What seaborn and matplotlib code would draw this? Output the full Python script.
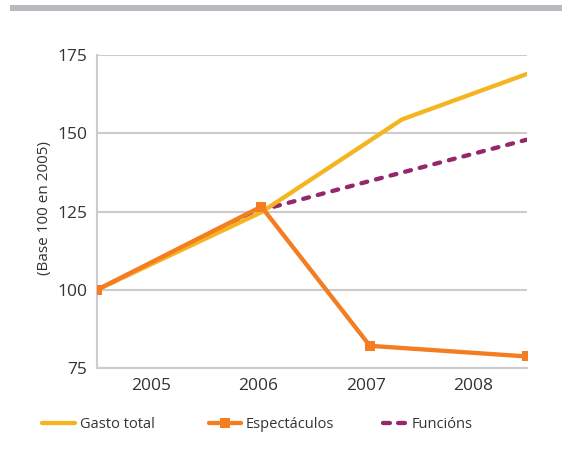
import matplotlib
matplotlib.use("Agg")
import matplotlib.pyplot as plt
import seaborn as sns
import pandas as pd
from matplotlib.patches import Rectangle
from matplotlib.lines import Line2D

# ---- data ----
year_labels = ["2005", "2006", "2007", "2008"]
year_ticks = [2005, 2006, 2007, 2008]

gasto_x = [2004.5, 2006.03, 2007.34, 2008.5]
gasto_y = [100, 124.8, 154.5, 169]

espect_x = [2004.5, 2006.03, 2007.04, 2008.5]
espect_y = [100, 126.6, 82.1, 78.7]

func_x = [2004.5, 2006.03, 2007.04, 2008.5]
func_y = [100, 125.5, 134.8, 148]

series_names = ["Gasto total", "Espectáculos", "Funcións"]
y_ticks = [75, 100, 125, 150, 175]

# ---- style ----
sns.set_theme(style="white")
plt.rcParams['font.family'] = ['Open Sans', 'DejaVu Sans']
TXT = "#333333"
GRID = "#cccccc"
C_GASTO = "#F4B520"
C_ESP = "#F47D22"
C_FUN = "#93296B"
DASH = (0, (1.4, 2.1))

fig = plt.figure(figsize=(5.67, 4.53), dpi=100)
ax = fig.add_axes([0.171, 0.1876, 0.758, 0.6904])

df_f = pd.DataFrame({"x": func_x, "y": func_y})
df_g = pd.DataFrame({"x": gasto_x, "y": gasto_y})
df_e = pd.DataFrame({"x": espect_x, "y": espect_y})

sns.lineplot(data=df_f, x="x", y="y", ax=ax, color=C_FUN, linewidth=3.1,
             linestyle=DASH, dash_capstyle="round", zorder=3)
sns.lineplot(data=df_g, x="x", y="y", ax=ax, color=C_GASTO, linewidth=3.1, zorder=4)
sns.lineplot(data=df_e, x="x", y="y", ax=ax, color=C_ESP, linewidth=3.1,
             marker="s", markersize=7, markeredgewidth=0, zorder=5)

ax.set_xlim(2004.5, 2008.5)
ax.set_ylim(75, 175)
ax.set_yticks(y_ticks)
ax.set_yticklabels([str(v) for v in y_ticks])
ax.set_xticks(year_ticks)
ax.set_xticklabels(year_labels)
ax.set_xticks([2005.5, 2006.5, 2007.5, 2008.5], minor=True)

ax.grid(axis="y", color=GRID, linewidth=1.5, zorder=0)
ax.grid(axis="x", visible=False)
for s in ["top", "right"]:
    ax.spines[s].set_visible(False)
for s in ["left", "bottom"]:
    ax.spines[s].set_color(GRID)
    ax.spines[s].set_linewidth(1.5)

ax.tick_params(axis="both", which="major", length=0, labelsize=12.5, labelcolor=TXT)
ax.tick_params(axis="y", pad=7)
ax.tick_params(axis="x", pad=7)
ax.tick_params(axis="x", which="minor", direction="in", length=7, width=1.5, color=GRID)

ax.set_xlabel("")
ax.set_ylabel("(Base 100 en 2005)", fontsize=11, color=TXT)
ax.yaxis.set_label_coords(-0.104, 0.511)

handles = [
    Line2D([], [], color=C_GASTO, linewidth=3.1),
    Line2D([], [], color=C_ESP, linewidth=3.1, marker="s", markersize=7, markeredgewidth=0),
    Line2D([], [], color=C_FUN, linewidth=3.1, linestyle=(0, (1.6, 1.9)), dash_capstyle="round"),
]
leg_left_px = [42, 209, 383]
leg_handle_len = [2.26, 2.2, 1.62]
for h, name, lx, hl in zip(handles, series_names, leg_left_px, leg_handle_len):
    leg = fig.legend([h], [name], loc="center left",
                     bbox_to_anchor=(lx / 567, 1 - 425 / 453),
                     frameon=False, fontsize=10.5, handlelength=hl, handletextpad=0.32,
                     borderpad=0, borderaxespad=0)
    for t in leg.get_texts():
        t.set_color(TXT)

# top gray band
fig.patches.append(Rectangle((10 / 567, 1 - 11 / 453), 552 / 567, 6 / 453,
                             transform=fig.transFigure, color="#b9b9bd", linewidth=0))

fig.savefig("out.png", dpi=100)
